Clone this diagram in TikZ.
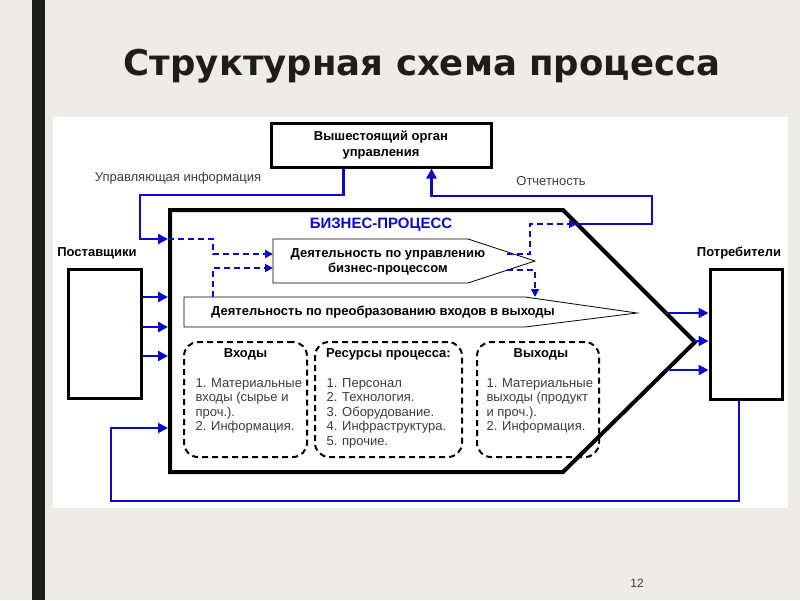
\documentclass[tikz,border=0pt]{standalone}
\usepackage{fontspec}
\setmainfont{Liberation Sans}
\newfontfamily\titlefont{DejaVu Sans}
\usepackage{tikz}
\usetikzlibrary{arrows.meta,calc,positioning}
\tikzset{every node/.append style={align=center}}
\definecolor{slidebg}{RGB}{238,236,230}
\definecolor{slidebar}{RGB}{30,30,25}
\definecolor{flowblue}{RGB}{10,10,200}
\definecolor{notegray}{RGB}{60,60,60}

\begin{document}
\begin{tikzpicture}[x=1pt, y=-1pt,
  font=\fontsize{13}{14.5}\selectfont,
  boldtext/.style={font=\bfseries\fontsize{13}{14.5}\selectfont},
  box/.style={draw, line width=3pt, inner sep=0pt},
  flow/.style={flowblue, line width=2.8pt},
  flowarr/.style={flow, -{Triangle[length=10pt, width=10pt]}},
  ctrl/.style={flowblue, line width=1.8pt, dash pattern=on 6pt off 4pt},
  ctrlarr/.style={ctrl, -{Triangle[length=8pt, width=8pt]}},
  group/.style={draw, line width=2pt, dash pattern=on 6pt off 4pt,
    rounded corners=14pt, minimum height=115pt, inner sep=0pt},
  listtext/.style={anchor=north west, align=left, text=notegray}]

  % Slide
  \fill[slidebg] (0,0) rectangle (800,600);
  \useasboundingbox (0,0) rectangle (800,600);
  \fill[slidebar] (32,0) rectangle (45,600);
  \node[font=\titlefont\bfseries\fontsize{35.5}{40}\selectfont, text=slidebar,
    anchor=base] (title) at (422,75) {Структурная схема процесса};
  \fill[white] (53,117) rectangle (788,508);
  \node[font=\fontsize{12}{13}\selectfont, text=notegray]
    (pagenum) at (637,583) {12};

  % Business process
  \coordinate (bpA) at (170,210);
  \coordinate (bpB) at (563,210);
  \coordinate (bpC) at (695,342);
  \coordinate (bpD) at (563,472);
  \coordinate (bpE) at (170,472);
  \draw[line width=4pt] (bpA) -- (bpB) -- (bpC) -- (bpD) -- (bpE) -- cycle;
  \node[font=\bfseries\fontsize{15}{16}\selectfont, text=flowblue]
    (bptitle) at (381,225) {БИЗНЕС-ПРОЦЕСС};

  % Management activity
  \draw[line width=0.8pt]
    (273,239) -- (468,239) -- (535,261) -- (468,283) -- (273,283) -- cycle;
  \node[boldtext] (mgmt) at (388,262)
    {Деятельность по управлению\\бизнес-процессом};

  % Transformation activity
  \draw[line width=0.8pt]
    (184,297) -- (525,297) -- (637,313) -- (525,327) -- (184,327) -- cycle;
  \node[boldtext] (transf) at (383,312)
    {Деятельность по преобразованию входов в выходы};

  % Upper management
  \node[box, font=\bfseries\fontsize{13}{16}\selectfont,
    minimum width=220pt, minimum height=44pt]
    (organ) at (381,145) {Вышестоящий орган\\управления};

  % Suppliers and consumers
  \node[box, minimum width=73pt, minimum height=129pt] (supp) at (104.5,333.5) {};
  \node[boldtext] (supplab) at (97,253) {Поставщики};
  \node[box, minimum width=72pt, minimum height=130pt] (cons) at (746,334) {};
  \node[boldtext] (conslab) at (739,253) {Потребители};

  % Groups
  \node[group, minimum width=123pt] (inputs) at (245.5,399.5) {};
  \node[boldtext] (inputsT) at ([yshift=-13pt]inputs.north) {Входы};
  \node[listtext] (inputsL) at ([xshift=9pt, yshift=-34pt]inputs.north west)
    {1. Материальные\\входы (сырье и\\проч.).\\2. Информация.};

  \node[group, minimum width=147pt] (res) at (388.5,399.5) {};
  \node[boldtext] (resT) at ([yshift=-13pt]res.north) {Ресурсы процесса:};
  \node[listtext] (resL) at ([xshift=9pt, yshift=-34pt]res.north west)
    {1. Персонал\\2. Технология.\\3. Оборудование.\\4. Инфраструктура.\\5. прочие.};

  \node[group, minimum width=122pt] (outputs) at (538,399.5) {};
  \node[boldtext] (outputsT) at ([xshift=3pt, yshift=-13pt]outputs.north) {Выходы};
  \node[listtext] (outputsL) at ([xshift=7pt, yshift=-34pt]outputs.north west)
    {1. Материальные\\выходы (продукт\\и проч.).\\2. Информация.};

  % Control and reporting
  \coordinate (ctrlbend) at (140,195);
  \coordinate (ctrlin) at (168,239);
  \draw[flowarr] ([xshift=74pt]organ.south west) |- (ctrlbend) |- (ctrlin);
  \node[text=notegray] (ctrllab) at (178,178) {Управляющая информация};

  \coordinate (repout) at (577,224);
  \coordinate (repbend) at (652,196);
  \draw[flowarr] (repout) -| (repbend) -| ([xshift=162pt]organ.south west);
  \node[text=notegray] (replab) at (551,181) {Отчетность};

  % Dashed control flows
  \coordinate (split) at (213,239);
  \coordinate (mgin1) at (273,254);
  \coordinate (mgin2) at (273,268);
  \coordinate (tfup) at (213,297);
  \coordinate (mgout1) at (507,254);
  \coordinate (mgout2) at (507,270);
  \coordinate (ctrlup) at (530,224);
  \coordinate (tfin) at (535,297);
  \draw[ctrlarr] (ctrlin) -- (split) |- (mgin1);
  \draw[ctrlarr] (tfup) |- (mgin2);
  \draw[ctrlarr] (mgout1) -| (ctrlup) -- (repout);
  \draw[ctrlarr] (mgout2) -| (tfin);

  % Material flows
  \foreach \y [count=\i] in {297,327,356} {
    \coordinate (in\i) at (0,\y);
    \draw[flowarr] (supp.east |- in\i) -- (ctrlin |- in\i);
  }
  \foreach \x/\y [count=\i] in {666/313, 693/341, 667/370} {
    \coordinate (out\i) at (\x,\y);
    \draw[flowarr] (out\i) -- (cons.west |- out\i);
  }

  % Feedback
  \coordinate (fbA) at (111,501);
  \coordinate (fbin) at (168,428);
  \draw[flowblue, line width=2pt, -{Triangle[length=10pt, width=10pt]}]
    ([xshift=-7pt]cons.south) |- (fbA) |- (fbin);

\end{tikzpicture}
\end{document}
